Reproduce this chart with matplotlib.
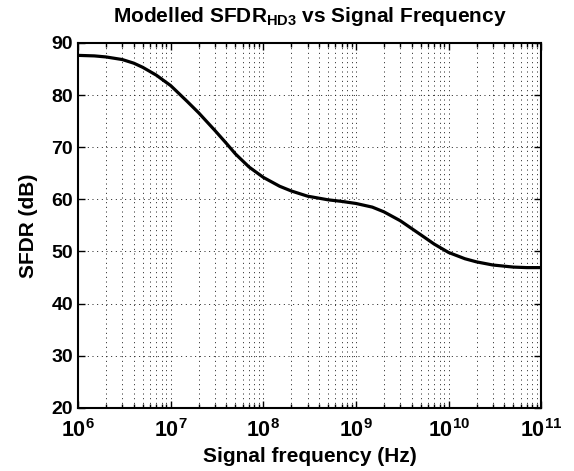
import numpy as np
import matplotlib
matplotlib.use("Agg")
import matplotlib.pyplot as plt

plt.rcParams['font.family'] = ['Liberation Sans', 'DejaVu Sans']
plt.rcParams['font.weight'] = 'bold'
plt.rcParams['mathtext.fontset'] = 'custom'
plt.rcParams['mathtext.rm'] = 'Liberation Sans:bold'
plt.rcParams['mathtext.it'] = 'Liberation Sans:bold'
plt.rcParams['mathtext.bf'] = 'Liberation Sans:bold'

# values
freq_hz = [1e6, 1.5e6, 2e6, 3e6, 4e6, 5e6, 7e6, 1e7, 1.5e7, 2e7, 3e7, 4e7, 5e7, 7e7,
           1e8, 1.5e8, 2e8, 3e8, 5e8, 7e8, 1e9, 1.5e9, 2e9, 3e9, 5e9, 7e9,
           1e10, 1.5e10, 2e10, 3e10, 5e10, 7e10, 1e11]
sfdr_db = [87.6, 87.5, 87.3, 86.8, 86.1, 85.3, 83.8, 81.8, 78.8, 76.6, 73.2, 70.7, 68.7, 66.2,
           64.2, 62.5, 61.6, 60.6, 59.9, 59.6, 59.2, 58.5, 57.6, 55.9, 53.2, 51.4,
           49.8, 48.6, 48.0, 47.4, 47.0, 46.9, 46.9]

fig = plt.figure(figsize=(5.74, 4.71), dpi=100)
ax = fig.add_axes([0.136, 0.134, 0.807, 0.775])

ax.semilogx(freq_hz, sfdr_db, color='black', lw=2.3)
ax.set_xlim(1e6, 1e11)
ax.set_ylim(20, 90)
ax.set_yticks(range(20, 91, 10))

dots = (0, (1, 3.8))
ax.grid(True, which='major', axis='both', color='0.1', ls=dots, lw=0.7)
ax.grid(True, which='minor', axis='x', color='0.1', ls=dots, lw=0.7)

ax.tick_params(which='both', direction='in', top=True, right=True, labelsize=14, width=1)
ax.tick_params(which='major', length=5)
ax.tick_params(which='minor', length=3)
ax.tick_params(axis='x', which='major', pad=8, labelsize=15.5)
for s in ax.spines.values():
    s.set_linewidth(1.5)

ax.set_xlabel('Signal frequency (Hz)', fontsize=15, fontweight='bold', labelpad=4)
ax.set_ylabel('SFDR (dB)', fontsize=15, fontweight='bold', labelpad=10)
ax.set_title(r'Modelled SFDR$_{\mathrm{HD3}}$ vs Signal Frequency', fontsize=15, fontweight='bold', pad=15)

fig.savefig('out.png', dpi=100)
